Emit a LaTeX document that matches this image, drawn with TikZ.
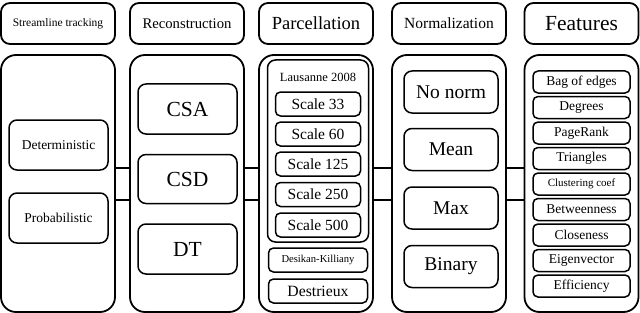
\documentclass[tikz,border=0pt]{standalone}
\usepackage{fontspec}
\setmainfont{Liberation Serif}
\newcommand{\fsz}[1]{\fontsize{#1}{#1}\selectfont}

\begin{document}
\begin{tikzpicture}[x=1pt, y=-1pt, line join=round,
    stage/.style={draw, line width=1.8pt, rounded corners=9pt,
      minimum width=114pt, minimum height=41pt, inner sep=0pt},
    column/.style={draw, line width=1.8pt, rounded corners=15pt,
      minimum width=114pt, minimum height=257pt, inner sep=0pt},
    choice/.style={draw, line width=1.5pt, rounded corners=8pt, inner sep=0pt},
    small/.style={draw, line width=1.5pt, rounded corners=5pt, inner sep=0pt},
    link/.style={line width=1.5pt}]
        \useasboundingbox (0,0) rectangle (640,313);
        % stage headers
        \node[stage, font=\fsz{11.5}] (trackhead) at (58,23.5) {Streamline tracking};
        \node[stage, font=\fsz{14.7}] (reconhead) at (187,23.5) {Reconstruction};
        \node[stage, font=\fsz{18.5}] (parchead) at (316,23.5) {Parcellation};
        \node[stage, font=\fsz{15.5}] (normhead) at (449,23.5) {Normalization};
        \node[stage, font=\fsz{21.5}] (feathead) at (581.5,23.5) {Features};
        % stage columns
        \node[column] (track) at (58,183.5) {};
        \node[column] (recon) at (187,183.5) {};
        \node[column] (parc) at (316,183.5) {};
        \node[column] (norm) at (449,183.5) {};
        \node[column] (feat) at (581.5,183.5) {};
        % links between columns
        \coordinate (upper) at (0,168);
        \coordinate (lower) at (0,200);
        \draw[link] (track.east |- upper) -- (recon.west |- upper);
        \draw[link] (track.east |- lower) -- (recon.west |- lower);
        \draw[link] (recon.east |- upper) -- (parc.west |- upper);
        \draw[link] (recon.east |- lower) -- (parc.west |- lower);
        \draw[link] (parc.east |- upper) -- (norm.west |- upper);
        \draw[link] (parc.east |- lower) -- (norm.west |- lower);
        \draw[link] (norm.east |- upper) -- (feat.west |- upper);
        \draw[link] (norm.east |- lower) -- (feat.west |- lower);
        % tracking
        \node[choice, minimum width=99pt, minimum height=50pt, font=\fsz{13.5}]
          (determ) at (58.5,145) {Deterministic};
        \node[choice, minimum width=99pt, minimum height=50pt, font=\fsz{13.5}]
          (probab) at (58.5,218) {Probabilistic};
        % reconstruction
        \node[choice, minimum width=99pt, minimum height=50pt, font=\fsz{21.5}]
          (csa) at (187.5,109) {CSA};
        \node[choice, minimum width=99pt, minimum height=49pt, font=\fsz{21.5}]
          (csd) at (187.5,179) {CSD};
        \node[choice, minimum width=99pt, minimum height=50pt, font=\fsz{21.5}]
          (dt) at (187.5,249) {DT};
        % parcellation
        \node[choice, minimum width=101pt, minimum height=182pt] (lausanne) at (318,151) {};
        \node[font=\fsz{12.5}] (lausannelabel) at (318,77.5) {Lausanne 2008};
        \node[small, minimum width=85pt, minimum height=24pt, font=\fsz{15.5}]
          (scale33) at (318,104) {Scale 33};
        \node[small, minimum width=85pt, minimum height=24pt, font=\fsz{15.5}]
          (scale60) at (318,134) {Scale 60};
        \node[small, minimum width=85pt, minimum height=24pt, font=\fsz{15.5}]
          (scale125) at (318,164) {Scale 125};
        \node[small, minimum width=85pt, minimum height=24pt, font=\fsz{15.5}]
          (scale250) at (318,194.5) {Scale 250};
        \node[small, minimum width=85pt, minimum height=24pt, font=\fsz{15.5}]
          (scale500) at (318,225) {Scale 500};
        \node[small, minimum width=99pt, minimum height=24pt, font=\fsz{10.6}]
          (desikan) at (318,260) {Desikan-Killiany};
        \node[small, minimum width=99pt, minimum height=24pt, font=\fsz{15.7}]
          (destrieux) at (318,291) {Destrieux};
        % normalization
        \node[choice, minimum width=94pt, minimum height=42pt, font=\fsz{19.5}]
          (nonorm) at (451,92) {No norm};
        \node[choice, minimum width=94pt, minimum height=42pt, font=\fsz{19.5}]
          (mean) at (451,149.5) {Mean};
        \node[choice, minimum width=94pt, minimum height=42pt, font=\fsz{19.5}]
          (max) at (451,208) {Max};
        \node[choice, minimum width=94pt, minimum height=42pt, font=\fsz{19.5}]
          (binary) at (451,266.5) {Binary};
        % features
        \node[small, minimum width=97pt, minimum height=22pt, font=\fsz{13.5}]
          (edges) at (581.5,82) {Bag of edges};
        \node[small, minimum width=97pt, minimum height=22pt, font=\fsz{13.5}]
          (degrees) at (581.5,107.5) {Degrees};
        \node[small, minimum width=97pt, minimum height=22pt, font=\fsz{13.5}]
          (pagerank) at (581.5,133) {PageRank};
        \node[small, minimum width=97pt, minimum height=22pt, font=\fsz{13.5}]
          (triangles) at (581.5,158.5) {Triangles};
        \node[small, minimum width=97pt, minimum height=22pt, font=\fsz{11}]
          (clustering) at (581.5,184) {Clustering coef};
        \node[small, minimum width=97pt, minimum height=22pt, font=\fsz{13.5}]
          (betweenness) at (581.5,209.5) {Betweenness};
        \node[small, minimum width=97pt, minimum height=22pt, font=\fsz{13.5}]
          (closeness) at (581.5,235) {Closeness};
        \node[small, minimum width=97pt, minimum height=22pt, font=\fsz{13.5}]
          (eigenvector) at (581.5,260.5) {Eigenvector};
        \node[small, minimum width=97pt, minimum height=22pt, font=\fsz{13.5}]
          (efficiency) at (581.5,286) {Efficiency};
      \end{tikzpicture}
\end{document}
